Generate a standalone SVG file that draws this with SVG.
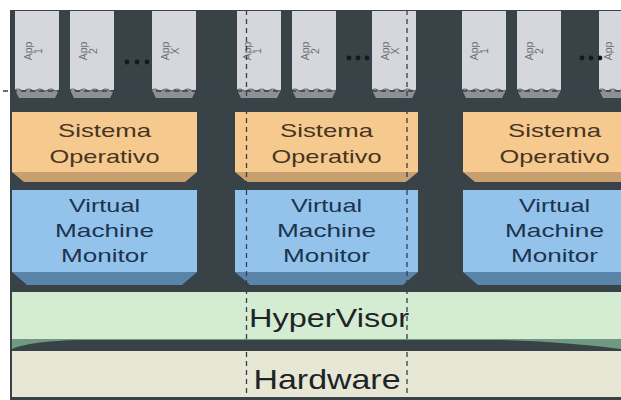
<svg xmlns="http://www.w3.org/2000/svg" width="621" height="400" viewBox="0 0 621 400">
<defs>
<style>
.app{fill:#d6d7dc}
.appb{fill:#8d9197}
.os{fill:#f6c98f}
.osb{fill:#c79f70}
.vmm{fill:#93c3ea}
.vmmb{fill:#5a84aa}
.ost{font-family:"Liberation Sans",Arial,sans-serif;font-size:19px;fill:#46351f;text-anchor:middle}
.vt{font-family:"Liberation Sans",Arial,sans-serif;font-size:19px;fill:#1c3350;text-anchor:middle}
.at{font-family:"Liberation Sans",Arial,sans-serif;font-size:10.5px;fill:#6a6f75;text-anchor:middle}
.dot{fill:#15191b}
.big{font-family:"Liberation Sans",Arial,sans-serif;fill:#1e2426;text-anchor:middle}
.dash{stroke:#33404c;stroke-width:1.3;stroke-dasharray:5,4;fill:none}
</style>
<g id="apps">
<rect class="app" x="0" y="11" width="44" height="79"/>
<path class="appb" d="M0,90 H44 L40,98 H4 Z"/>
<path d="M0,90 q2.75,-2 5.5,0 t5.5,0 t5.5,0 t5.5,0 t5.5,0 t5.5,0 t5.5,0 t5.5,0" stroke="#5d6268" stroke-width="1.2" fill="none"/>
</g>
</defs>
<rect x="0" y="0" width="621" height="400" fill="#ffffff"/>
<rect x="10" y="10" width="611" height="390" fill="#394246"/>

<g id="col1">
<use href="#apps" x="15" y="0"/>
<use href="#apps" x="70" y="0"/>
<use href="#apps" x="152" y="0"/>
<text class="at" transform="translate(32,51) rotate(-90)">App</text>
<text class="at" transform="translate(42,51) rotate(-90)">1</text>
<text class="at" transform="translate(87,51) rotate(-90)">App</text>
<text class="at" transform="translate(97,51) rotate(-90)">2</text>
<text class="at" transform="translate(169,51) rotate(-90)">App</text>
<text class="at" transform="translate(179,51) rotate(-90)">X</text>
<circle class="dot" cx="127" cy="62" r="2.4"/><circle class="dot" cx="137" cy="62" r="2.4"/><circle class="dot" cx="147" cy="62" r="2.4"/>
</g>
<g id="os1">
<rect class="os" x="12" y="112" width="185" height="60"/>
<path class="osb" d="M12,172 H197 L185,182 H24 Z"/>
<text class="ost" x="104.5" y="137" textLength="93" lengthAdjust="spacingAndGlyphs">Sistema</text>
<text class="ost" x="104.5" y="163" textLength="110" lengthAdjust="spacingAndGlyphs">Operativo</text>
</g>
<g id="vmm1">
<rect class="vmm" x="12" y="190" width="185" height="82"/>
<path class="vmmb" d="M12,272 H197 L182,285 H27 Z"/>
<text class="vt" x="104.5" y="212" textLength="71" lengthAdjust="spacingAndGlyphs">Virtual</text>
<text class="vt" x="104.5" y="237" textLength="99" lengthAdjust="spacingAndGlyphs">Machine</text>
<text class="vt" x="104.5" y="262" textLength="87" lengthAdjust="spacingAndGlyphs">Monitor</text>
</g>

<g id="col2">
<use href="#apps" x="237" y="0"/>
<use href="#apps" x="292" y="0"/>
<use href="#apps" x="372" y="0"/>
<text class="at" transform="translate(251,51) rotate(-90)">App</text>
<text class="at" transform="translate(261,51) rotate(-90)">1</text>
<text class="at" transform="translate(309,51) rotate(-90)">App</text>
<text class="at" transform="translate(319,51) rotate(-90)">2</text>
<text class="at" transform="translate(389,51) rotate(-90)">App</text>
<text class="at" transform="translate(399,51) rotate(-90)">X</text>
<circle class="dot" cx="349" cy="58" r="2.4"/><circle class="dot" cx="358" cy="58" r="2.4"/><circle class="dot" cx="367" cy="58" r="2.4"/>
</g>
<g id="os2">
<rect class="os" x="235" y="112" width="183" height="60"/>
<path class="osb" d="M235,172 H418 L406,182 H247 Z"/>
<text class="ost" x="326.5" y="137" textLength="93" lengthAdjust="spacingAndGlyphs">Sistema</text>
<text class="ost" x="326.5" y="163" textLength="110" lengthAdjust="spacingAndGlyphs">Operativo</text>
</g>
<g id="vmm2">
<rect class="vmm" x="235" y="190" width="183" height="82"/>
<path class="vmmb" d="M235,272 H418 L403,285 H250 Z"/>
<text class="vt" x="326.5" y="212" textLength="71" lengthAdjust="spacingAndGlyphs">Virtual</text>
<text class="vt" x="326.5" y="237" textLength="99" lengthAdjust="spacingAndGlyphs">Machine</text>
<text class="vt" x="326.5" y="262" textLength="87" lengthAdjust="spacingAndGlyphs">Monitor</text>
</g>

<g id="col3">
<use href="#apps" x="462" y="0"/>
<use href="#apps" x="517" y="0"/>
<use href="#apps" x="599" y="0"/>
<text class="at" transform="translate(478,51) rotate(-90)">App</text>
<text class="at" transform="translate(488,51) rotate(-90)">1</text>
<text class="at" transform="translate(533,51) rotate(-90)">App</text>
<text class="at" transform="translate(543,51) rotate(-90)">2</text>
<text class="at" transform="translate(612,51) rotate(-90)">App</text>
<circle class="dot" cx="582" cy="58" r="2.4"/><circle class="dot" cx="591" cy="58" r="2.4"/><circle class="dot" cx="600" cy="58" r="2.4"/>
</g>
<g id="os3">
<rect class="os" x="463" y="112" width="183" height="60"/>
<path class="osb" d="M463,172 H646 L634,182 H475 Z"/>
<text class="ost" x="554.5" y="137" textLength="93" lengthAdjust="spacingAndGlyphs">Sistema</text>
<text class="ost" x="554.5" y="163" textLength="110" lengthAdjust="spacingAndGlyphs">Operativo</text>
</g>
<g id="vmm3">
<rect class="vmm" x="463" y="190" width="183" height="82"/>
<path class="vmmb" d="M463,272 H646 L631,285 H478 Z"/>
<text class="vt" x="554.5" y="212" textLength="71" lengthAdjust="spacingAndGlyphs">Virtual</text>
<text class="vt" x="554.5" y="237" textLength="99" lengthAdjust="spacingAndGlyphs">Machine</text>
<text class="vt" x="554.5" y="262" textLength="87" lengthAdjust="spacingAndGlyphs">Monitor</text>
</g>

<g id="hypervisor">
<rect x="12" y="292" width="609" height="47" fill="#d4ecd2"/>
<path d="M12,339 H621 V349 Q560,341 500,340 H80 Q30,341 12,349 Z" fill="#6f9a80"/>
<text class="big" x="329" y="327" font-size="26" textLength="160" lengthAdjust="spacingAndGlyphs">HyperVisor</text>
</g>
<g id="hardware">
<rect x="12" y="351" width="609" height="46" fill="#e7e7d5"/>
<text class="big" x="327" y="389" font-size="28" textLength="147" lengthAdjust="spacingAndGlyphs">Hardware</text>
</g>

<g id="connectors">
<line class="dash" x1="3" y1="91" x2="621" y2="91"/>
<line class="dash" x1="246.5" y1="10" x2="246.5" y2="400"/>
<line class="dash" x1="407" y1="10" x2="407" y2="400"/>
</g>
</svg>
